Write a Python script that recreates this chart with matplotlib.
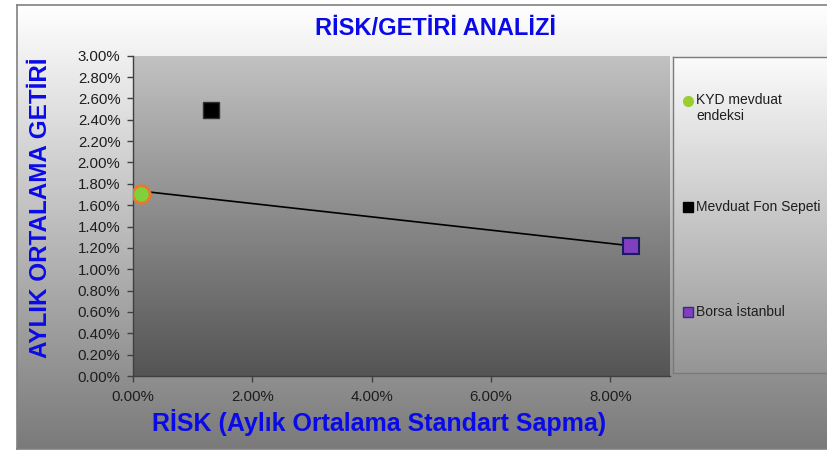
import numpy as np
import matplotlib
matplotlib.use("Agg")
import matplotlib.pyplot as plt
from matplotlib.colors import LinearSegmentedColormap
from matplotlib.ticker import FuncFormatter, MultipleLocator

plt.rcParams['font.family'] = ['Liberation Sans', 'DejaVu Sans']

# ---- data (percent units) ----
series_names = ["KYD mevduat\nendeksi", "Mevduat Fon Sepeti", "Borsa İstanbul"]
risk = [0.14, 1.30, 8.34]
returns = [1.70, 2.49, 1.22]
line_risk = [0.0, 8.34]
line_return = [1.74, 1.22]
title = "RİSK/GETİRİ ANALİZİ"
xlabel = "RİSK (Aylık Ortalama Standart Sapma)"
ylabel = "AYLIK ORTALAMA GETİRİ"

W, H = 827, 451
fig = plt.figure(figsize=(W / 100, H / 100), dpi=100)
fig.patch.set_facecolor('white')

def rect(l, t, r, b):
    return [l / W, (H - b) / H, (r - l) / W, (b - t) / H]

def gradient(ax, top, bottom, z=0):
    cmap = LinearSegmentedColormap.from_list('g', [bottom, top])
    grad = np.linspace(0, 1, 256).reshape(-1, 1)
    ax.imshow(grad, cmap=cmap, aspect='auto', extent=[0, 1, 0, 1],
              transform=ax.transAxes, origin='lower', zorder=z)

# ---- outer frame ----
bg = fig.add_axes(rect(17, 5, 840, 449))
gradient(bg, '#ffffff', '#7a7a7a')
bg.set_xticks([]); bg.set_yticks([])
for s in bg.spines.values():
    s.set_color('#808080'); s.set_linewidth(1.2)
bg.set_zorder(0)

# ---- main plot ----
ax = fig.add_axes(rect(133, 55.7, 670, 376))
ax.set_zorder(2)
gradient(ax, '#c2c2c2', '#545454', z=0)
ax.plot(line_risk, line_return, color='black', lw=1.2, zorder=3)
ax.plot(risk[0], returns[0], 'o', ms=12.5, mfc='#7fd03c', mec='#e8782a', mew=2, zorder=4)
ax.plot(risk[1], returns[1], 's', ms=11.5, mfc='black', mec='#303030', mew=1, zorder=4)
ax.plot(risk[2], returns[2], 's', ms=12, mfc='#7f3fc0', mec='#1a1a60', mew=1.5, zorder=4)
ax.set_xlim(0, 9)
ax.set_ylim(0, 3)
ax.xaxis.set_major_locator(MultipleLocator(2))
ax.yaxis.set_major_locator(MultipleLocator(0.2))
fmt = FuncFormatter(lambda v, p: f"{v:.2f}%")
ax.xaxis.set_major_formatter(fmt)
ax.yaxis.set_major_formatter(fmt)
ax.tick_params(axis='both', direction='out', length=4, width=1, color='#404040',
               labelsize=10.8, labelcolor='#1e1e1e')
ax.tick_params(axis='x', pad=6)
ax.tick_params(axis='y', pad=5)
for side in ['top', 'right']:
    ax.spines[side].set_visible(False)
for side in ['left', 'bottom']:
    ax.spines[side].set_color('#404040')
    ax.spines[side].set_linewidth(1)

# ---- texts ----
blue = '#0a0ae8'
fig.text(436 / W, 1 - 28.5 / H, title, ha='center', va='center',
         fontsize=17, fontweight='bold', color=blue)
fig.text(379 / W, 1 - 422 / H, xlabel, ha='center', va='center',
         fontsize=18, fontweight='bold', color=blue)
fig.text(41 / W, 1 - 208 / H, ylabel, ha='center', va='center', rotation=90,
         fontsize=17.5, fontweight='bold', color=blue)

# ---- legend box ----
lg = fig.add_axes(rect(673, 57, 850, 373))
lg.set_zorder(1)
gradient(lg, '#fbfbfb', '#959595')
lg.set_xlim(0, 1); lg.set_ylim(0, 1)
lg.set_xticks([]); lg.set_yticks([])
for s in lg.spines.values():
    s.set_color('#7a7a7a'); s.set_linewidth(1)

def lpos(x, y):
    return ((x - 673) / (850 - 673), (373 - y) / (373 - 57))

leg_y = [101, 207, 312]
styles = [dict(marker='o', mfc='#9acd32', mec='#9acd32', ms=7),
          dict(marker='s', mfc='black', mec='black', ms=7),
          dict(marker='s', mfc='#7f3fc0', mec='#3a2a80', ms=7, mew=1)]
for name, y, st in zip(series_names, leg_y, styles):
    mx, my = lpos(688, y)
    lg.plot([mx], [my], ls='none', zorder=3, **st)
    tx, ty = lpos(696, y)
    if '\n' in name:
        lg.text(tx, lpos(0, y - 8)[1], name, ha='left', va='top', fontsize=10,
                color='#1e1e1e', linespacing=1.2)
    else:
        lg.text(tx, ty, name, ha='left', va='center', fontsize=10, color='#1e1e1e')

fig.savefig('out.png', dpi=100)
